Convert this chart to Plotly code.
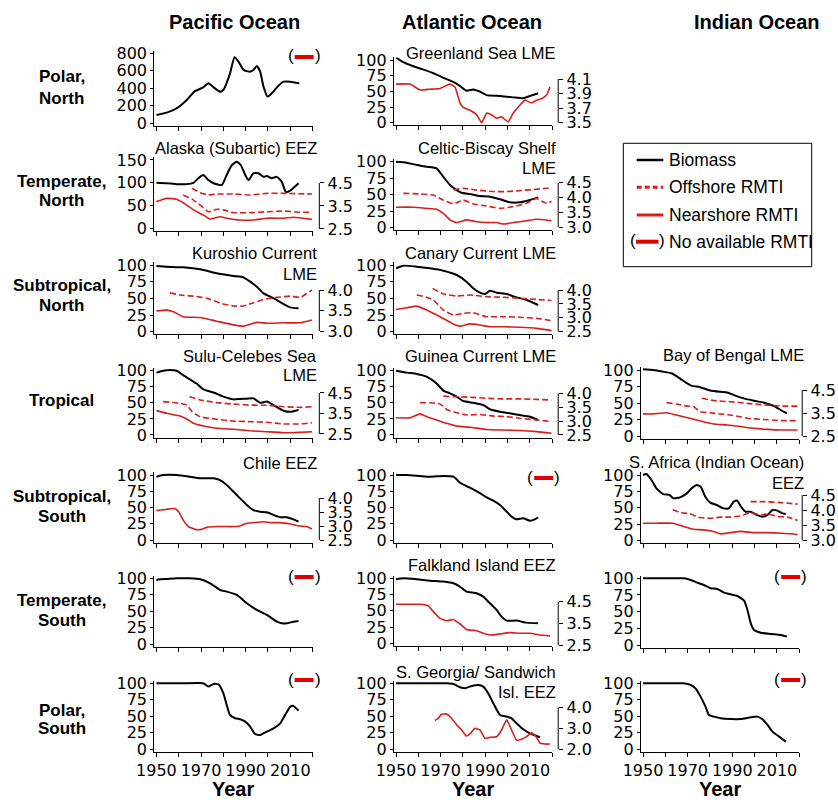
import plotly.graph_objects as go

W, H = 838, 802
FONT = "Liberation Sans, Arial, Helvetica, sans-serif"
TICKFONT = "DejaVu Sans, Liberation Sans, Arial, sans-serif"
RED = "#d81f1f"

# ---------------- data ----------------
columns = ["Pacific Ocean", "Atlantic Ocean", "Indian Ocean"]
row_labels = [["Polar,", "North"], ["Temperate,", "North"], ["Subtropical,", "North"],
              ["Tropical"], ["Subtropical,", "South"], ["Temperate,", "South"], ["Polar,", "South"]]
x_tick_vals = [1950, 1960, 1970, 1980, 1990, 2000, 2010, 2020]
x_tick_text = ["1950", "", "1970", "", "1990", "", "2010", ""]

# Pacific, Polar North (biomass only)
pac_pn_year = [1950, 1954.6, 1959, 1963.6, 1967, 1971, 1973.3, 1975.6, 1978.5, 1980, 1983, 1985, 1986.8,
               1989, 1992, 1993.5, 1995, 1996.5, 1998, 1999.8, 2001.7, 2004, 2007, 2010, 2014]
pac_pn_bio = [95, 122, 171, 267, 362, 411, 457, 411, 362, 381, 571, 754, 705, 610, 590, 610, 655, 590,
              419, 305, 343, 411, 476, 476, 457]

# Pacific, Alaska (Subartic) EEZ
ala_year = [1950, 1954.6, 1959, 1963.6, 1966.6, 1968.8, 1971, 1973.3, 1975.6, 1979.3, 1981.5, 1983.8, 1986,
            1987.8, 1989.8, 1991.3, 1993.5, 1995.7, 1998, 1999.5, 2001.7, 2004, 2006.2, 2008, 2010, 2013.7]
ala_bio = [100, 99, 97, 97, 100, 110, 117, 106, 99, 95, 117, 139, 146, 139, 117, 106, 121, 121, 113, 115,
           110, 113, 102, 80, 83, 99]
ala_off1_year = [1966, 1969.6, 1973.3, 1977, 1984.5, 1992, 1999.5, 2007, 2019.7]
ala_off1 = [4.27, 4.08, 3.98, 4.02, 4.02, 3.98, 4.05, 4.05, 4.02]
ala_off2_year = [1962, 1966, 1969.6, 1973.3, 1977, 1980, 1984.5, 1992, 1999.5, 2007, 2014.4, 2019.7]
ala_off2 = [3.98, 3.80, 3.54, 3.25, 3.36, 3.33, 3.21, 3.21, 3.25, 3.28, 3.23, 3.23]
ala_near_year = [1950, 1954.6, 1959, 1963.6, 1966.6, 1971, 1974, 1978.5, 1981.5, 1987.5, 1993.5, 1999.5,
                 2007, 2011.5, 2019.7]
ala_near = [3.69, 3.83, 3.79, 3.54, 3.33, 3.11, 2.93, 3.03, 2.97, 2.89, 2.89, 2.97, 2.97, 3.01, 2.92]

# Pacific, Kuroshio Current LME
kur_year = [1950, 1954.6, 1962, 1969.6, 1977, 1984.5, 1989, 1992, 1995, 1998, 2001, 2004, 2007, 2010, 2013.7]
kur_bio = [98.5, 97.5, 96.5, 93.5, 87.5, 83.5, 81.5, 75, 67.5, 57.5, 52.5, 47.5, 41.5, 36.5, 35]
kur_off_year = [1956, 1960.6, 1966.6, 1972.6, 1978.5, 1984.5, 1989, 1993.5, 1998, 2004, 2010, 2014.4, 2019.7]
kur_off = [3.93, 3.88, 3.85, 3.80, 3.68, 3.61, 3.61, 3.69, 3.77, 3.82, 3.85, 3.82, 4.0]
kur_near_year = [1950, 1954.6, 1957.6, 1962, 1969.6, 1977, 1984.5, 1989, 1995, 1999.5, 2007, 2014.4, 2019.7]
kur_near = [3.49, 3.51, 3.47, 3.35, 3.33, 3.24, 3.15, 3.12, 3.21, 3.19, 3.20, 3.20, 3.27]

# Pacific, Sulu-Celebes Sea LME
sulu_year = [1950, 1953, 1956, 1959, 1962, 1965, 1968, 1971, 1975.6, 1980, 1984.5, 1987.5, 1990.5, 1993.5,
             1996.5, 1999.5, 2002.5, 2007, 2010, 2013.7]
sulu_bio = [97, 100, 101, 100, 93, 86.5, 80, 71, 66, 59.6, 55.4, 56, 56.5, 57, 50, 52, 46.6, 37.8, 36, 38.9]
sulu_off1_year = [1964.8, 1969.6, 1977, 1984.5, 1992, 1999.5, 2007, 2014.4, 2019.7]
sulu_off1 = [4.32, 4.16, 4.03, 3.96, 3.91, 3.90, 3.83, 3.80, 3.83]
sulu_off2_year = [1953, 1960.6, 1963.6, 1966, 1969.6, 1977, 1984.5, 1992, 1999.5, 2007, 2014.4, 2019.7]
sulu_off2 = [4.08, 4.0, 3.91, 3.59, 3.34, 3.22, 3.13, 3.10, 3.07, 2.99, 2.99, 3.05]
sulu_near_year = [1950, 1954.6, 1960.6, 1963.6, 1966.6, 1971, 1977, 1984.5, 1992, 1999.5, 2007, 2014.4, 2019.7]
sulu_near = [3.64, 3.51, 3.38, 3.23, 3.02, 2.89, 2.78, 2.73, 2.66, 2.61, 2.56, 2.58, 2.61]

# Pacific, Chile EEZ
chi_year = [1950, 1953, 1959, 1965, 1969.6, 1975.6, 1978.5, 1981.5, 1984.5, 1987.5, 1990.5, 1993.5, 1996.5,
            1999.5, 2002.5, 2005.5, 2008.5, 2011.4, 2013.7]
chi_bio = [97.4, 100, 100, 97.4, 95, 95, 92, 84.6, 74.4, 64, 54, 46, 43.6, 42.6, 38.5, 35, 35, 31.8, 28.2]
chi_near_year = [1950, 1954.6, 1958.4, 1960, 1962, 1964.3, 1967.3, 1970.3, 1972.6, 1977, 1984.5, 1987.5,
                 1990.5, 1993.5, 1998, 2001, 2005.5, 2010, 2014.4, 2017.4, 2019.7]
chi_near = [3.55, 3.60, 3.62, 3.51, 3.21, 2.98, 2.88, 2.88, 2.95, 2.98, 2.98, 3.0, 3.10, 3.12, 3.15, 3.12,
            3.12, 3.07, 3.0, 2.98, 2.89]

# Pacific, Temperate South / Polar South (biomass only)
pac_ts_year = [1950, 1951.6, 1954.6, 1959, 1965, 1969.6, 1974.1, 1978.6, 1981.5, 1986, 1990.5, 1995, 1999.5,
               2004, 2006.2, 2008.4, 2011.4, 2013.7]
pac_ts_bio = [97.5, 98.5, 99, 100, 100, 98.5, 92.4, 82.2, 79.7, 74.6, 62, 51.8, 44.2, 34, 31.5, 31.5, 34, 35]
pac_ps_year = [1950, 1962, 1971, 1973.3, 1975.6, 1977.8, 1980, 1981.5, 1983, 1985.3, 1987.5, 1989.8, 1992,
               1994.2, 1996.5, 1999.5, 2002.5, 2005.5, 2007.7, 2010, 2011.4, 2013.7]
pac_ps_bio = [100, 100, 100, 95, 99, 98.5, 85, 67, 52, 47, 45.5, 42, 34.3, 23.2, 21.7, 26.8, 31.8, 39.4, 52,
              64.6, 65.7, 58.6]

# Atlantic, Greenland Sea LME
grl_year = [1950, 1953, 1957.8, 1962, 1966.7, 1971, 1975.7, 1978.7, 1981.6, 1984.6, 1987.6, 1990.6, 1996.6,
            2002.5, 2007, 2010, 2013.7]
grl_bio = [104, 97, 90, 85, 79, 72, 65, 58.5, 51, 53, 49.5, 44, 42.5, 40.4, 39, 42.5, 47]
grl_near_year = [1950, 1956.3, 1960.7, 1965.2, 1969.7, 1974.2, 1976.4, 1978.7, 1980.1, 1983.1, 1986.1, 1988.4,
                 1990.6, 1992.8, 1995.1, 1997.3, 2000.3, 2002.5, 2005.5, 2007.8, 2010.7, 2013, 2015.2,
                 2017.5, 2019]
grl_near = [4.03, 4.03, 3.95, 3.96, 3.97, 4.03, 3.99, 3.77, 3.71, 3.67, 3.61, 3.50, 3.63, 3.61, 3.56, 3.58,
            3.51, 3.63, 3.74, 3.81, 3.77, 3.81, 3.83, 3.88, 3.99]

# Atlantic, Celtic-Biscay Shelf LME
cel_year = [1950, 1954.8, 1959.3, 1963.7, 1968.2, 1971.2, 1974.2, 1977.2, 1979.4, 1983.1, 1987.6, 1992.1,
            1996.6, 2001, 2005.5, 2010, 2013.7]
cel_bio = [100, 98.5, 95, 92.4, 90, 77, 64.6, 57, 53, 51, 48, 47, 43, 38.4, 38.4, 42, 46]
cel_off1_year = [1975.7, 1980.1, 1986.1, 1993.6, 1999.6, 2005.5, 2011.5, 2017.5, 2020]
cel_off1 = [4.25, 4.31, 4.25, 4.20, 4.20, 4.23, 4.27, 4.31, 4.31]
cel_off2_year = [1953.3, 1960.7, 1966.7, 1971.2, 1975.7, 1980.1, 1984.6, 1990.6, 1996.6, 2002.5, 2008.5,
                 2013, 2016.7, 2019.7]
cel_off2 = [4.14, 4.12, 4.08, 3.91, 3.78, 3.91, 3.78, 3.71, 3.63, 3.69, 3.80, 3.97, 3.82, 3.86]
cel_near_year = [1950, 1957.8, 1963.7, 1968.2, 1971.2, 1974.2, 1977.2, 1981.6, 1986.1, 1990.6, 1995.1,
                 1998.1, 2002.5, 2008.5, 2013, 2019.7]
cel_near = [3.67, 3.67, 3.63, 3.60, 3.46, 3.24, 3.15, 3.24, 3.18, 3.15, 3.15, 3.10, 3.15, 3.21, 3.26, 3.21]

# Atlantic, Canary Current LME
can_year = [1950, 1953.3, 1959.3, 1965.2, 1971.2, 1977.2, 1981.6, 1984.6, 1987.6, 1989.9, 1992.1, 1995.1,
            1999.6, 2004, 2008.5, 2013.7]
can_bio = [95, 99, 97.5, 95, 91.5, 85, 75, 65, 58.5, 56.5, 61.5, 58.5, 56.5, 51.5, 47.5, 40]
can_off1_year = [1966.4, 1971.2, 1977.2, 1983.1, 1990.6, 1998.1, 2005.5, 2013, 2019.7]
can_off1 = [4.06, 3.86, 3.78, 3.82, 3.76, 3.74, 3.70, 3.66, 3.62]
can_off2_year = [1959.3, 1963.7, 1966.7, 1971.2, 1975.7, 1980.1, 1984.6, 1990.6, 1998.1, 2005.5, 2013, 2019.7]
can_off2 = [3.82, 3.74, 3.64, 3.28, 3.10, 3.16, 3.18, 3.04, 3.04, 3.02, 2.98, 2.90]
can_near_year = [1950, 1954.8, 1959.3, 1963.7, 1969.7, 1975.7, 1978.7, 1983.1, 1987.6, 1992.1, 1998.1,
                 2005.5, 2013, 2019.7]
can_near = [3.30, 3.36, 3.42, 3.28, 3.04, 2.78, 2.70, 2.78, 2.74, 2.68, 2.68, 2.66, 2.62, 2.54]

# Atlantic, Guinea Current LME
gui_year = [1950, 1954.8, 1959.3, 1963.7, 1968.2, 1971.2, 1974.2, 1977.2, 1980.1, 1984.6, 1989.1, 1992.1,
            1996.6, 2001, 2005.5, 2010, 2013.7]
gui_bio = [100, 97, 95, 90.7, 80, 69, 64.8, 59.6, 52.8, 50, 46.6, 40, 36.3, 33.7, 31, 28.5, 23.3]
gui_off1_year = [1971.2, 1975.7, 1983.1, 1990.6, 1998.1, 2005.5, 2013, 2019.7]
gui_off1 = [3.90, 3.88, 3.86, 3.82, 3.80, 3.80, 3.78, 3.76]
gui_off2_year = [1960.7, 1965.2, 1969.7, 1972.7, 1977.2, 1981.6, 1987.6, 1993.6, 1999.6, 2005.5, 2013, 2019.7]
gui_off2 = [3.66, 3.66, 3.62, 3.42, 3.30, 3.22, 3.24, 3.18, 3.16, 3.10, 3.04, 2.98]
gui_near_year = [1950, 1956.3, 1960.7, 1963.7, 1968.2, 1972.7, 1977.2, 1983.1, 1990.6, 1998.1, 2005.5,
                 2013, 2019.7]
gui_near = [3.12, 3.12, 3.26, 3.16, 3.04, 2.92, 2.82, 2.78, 2.70, 2.68, 2.66, 2.62, 2.56]

# Atlantic, Subtropical South (biomass only)
atl_ss_year = [1950, 1954.8, 1960.7, 1965.2, 1971.2, 1975.7, 1978.7, 1981.6, 1984.6, 1987.6, 1990.6, 1993.6,
               1996.6, 1999.6, 2001.8, 2004, 2007, 2010, 2012.2, 2013.7]
atl_ss_bio = [100, 100, 98.5, 97.4, 98.5, 97.4, 88, 83, 78, 72, 65.6, 60.5, 53.8, 43.6, 36, 31.8, 33.3,
              29.7, 31.8, 35]

# Atlantic, Falkland Island EEZ
fal_year = [1950, 1953.3, 1959.3, 1965.2, 1971.2, 1975.7, 1978.7, 1981.6, 1986.1, 1989.1, 1992.1, 1995.1,
            1997.3, 1999.6, 2004, 2008.5, 2013.7]
fal_bio = [98.5, 100, 98.5, 96.4, 94.9, 92.3, 87, 79.5, 77, 71.8, 61.5, 51.3, 41, 34.9, 34.9, 31.8, 30.8]
fal_near_year = [1950, 1960.7, 1964.5, 1966.7, 1969.7, 1972.7, 1975.7, 1978.7, 1981.6, 1986.1, 1989.1,
                 1992.1, 1996.6, 2001, 2005.5, 2010, 2014.5, 2019]
fal_near = [4.38, 4.38, 4.30, 4.04, 3.73, 3.62, 3.68, 3.47, 3.22, 3.16, 3.04, 2.96, 3.01, 3.07, 3.04, 3.04,
            2.96, 2.92]

# Atlantic, S. Georgia/ Sandwich Isl. EEZ
sge_year = [1950, 1960.7, 1972.7, 1975.7, 1978.7, 1980.9, 1983.9, 1986.9, 1989.1, 1991.3, 1993.6, 1996.6,
            1999.6, 2001.8, 2004, 2007, 2010, 2013, 2014.5]
sge_bio = [100, 100, 100, 99, 94, 92.4, 96, 97.5, 95, 85, 69.7, 52, 49.5, 47, 39.4, 30.3, 24.2, 20.2, 18.2]
sge_near_year = [1967.5, 1969, 1970.4, 1972.7, 1974.9, 1977.2, 1979.4, 1981.6, 1983.1, 1985.4, 1987.6,
                 1989.9, 1992.1, 1995.1, 1997.3, 1999.6, 2001.8, 2004, 2006.3, 2008.5, 2010.7, 2013,
                 2014.5, 2016.7, 2019]
sge_near = [3.37, 3.48, 3.67, 3.68, 3.48, 3.16, 2.92, 2.63, 2.73, 3.0, 2.92, 2.52, 2.57, 2.60, 2.92, 3.40,
            2.92, 2.44, 2.48, 2.60, 2.79, 2.57, 2.29, 2.25, 2.25]

# Indian, Bay of Bengal LME
bob_year = [1950, 1954.5, 1959, 1962.8, 1966.6, 1969.6, 1971.8, 1975.6, 1980.1, 1984.6, 1987.7, 1990.7,
            1995.2, 1999.7, 2004.2, 2008.7, 2011.7, 2014.5]
bob_bio = [101, 100, 97.5, 95, 87, 80, 76, 74, 69, 67, 66, 62, 57, 53.5, 50.5, 45.5, 39.4, 34.3]
bob_off1_year = [1976.4, 1981.6, 1989.2, 1996.7, 2004.2, 2011.7, 2019.3]
bob_off1 = [4.14, 4.04, 3.99, 3.92, 3.85, 3.80, 3.80]
bob_off2_year = [1960.5, 1965, 1969.6, 1972.6, 1975.6, 1980.1, 1984.6, 1989.2, 1993.7, 1996.7, 2004.2,
                 2011.7, 2019.3]
bob_off2 = [3.95, 3.89, 3.80, 3.78, 3.56, 3.51, 3.46, 3.41, 3.34, 3.27, 3.22, 3.17, 3.17]
bob_near_year = [1950, 1954.5, 1960.5, 1965, 1971, 1977.1, 1981.6, 1987.7, 1993.7, 1999.7, 2005.7, 2011.7,
                 2019.3]
bob_near = [3.46, 3.46, 3.51, 3.41, 3.27, 3.12, 3.02, 2.98, 2.91, 2.83, 2.79, 2.76, 2.76]

# Indian, S. Africa (Indian Ocean) EEZ
saf_year = [1950, 1951.5, 1953.8, 1956, 1959, 1962, 1963.6, 1966.6, 1969.6, 1971.8, 1974.1, 1975.9, 1977.9,
            1980.1, 1983.1, 1986.1, 1988.4, 1990.7, 1992.2, 1993.7, 1995.9, 1998.2, 2001.2, 2003.5, 2005.7,
            2008, 2010.2, 2012.5, 2014]
saf_bio = [100, 101.5, 92.4, 79.7, 71, 69.5, 64.5, 66, 72, 79.7, 84.8, 82.2, 67, 57.9, 54.3, 49.2, 49.2,
           59.4, 61, 52.8, 44.2, 44.2, 39, 36.5, 39, 46.7, 45.7, 41.6, 40.6]
saf_off1_year = [1998.2, 2004.2, 2011.7, 2019.3]
saf_off1 = [4.28, 4.28, 4.25, 4.20]
saf_off2_year = [1963.3, 1966.6, 1971.1, 1974.8, 1980.1, 1984.6, 1989.2, 1993.7, 1998.2, 2002.7, 2005.7,
                 2010.2, 2014.8, 2019.3]
saf_off2 = [4.01, 3.92, 3.88, 3.77, 3.73, 3.77, 3.77, 3.81, 3.92, 3.84, 3.88, 3.79, 3.77, 3.66]
saf_near_year = [1950, 1956, 1963.6, 1968.1, 1972.6, 1977.1, 1981.6, 1984.6, 1989.2, 1993.7, 1999.7,
                 2005.7, 2011.7, 2016.3, 2019.3]
saf_near = [3.57, 3.57, 3.57, 3.46, 3.37, 3.35, 3.30, 3.22, 3.26, 3.30, 3.26, 3.26, 3.24, 3.22, 3.19]

# Indian, Temperate South / Polar South (biomass only)
ind_ts_year = [1950, 1959.3, 1968.3, 1971.3, 1974.3, 1977.3, 1980.3, 1983.3, 1986.3, 1989.3, 1992.3, 1995.3,
               1996.8, 1998.3, 1999.8, 2002.8, 2007.3, 2011.8, 2014.5]
ind_ts_bio = [100, 100, 100, 97.5, 93.5, 90, 85, 84, 78.5, 76, 73.5, 66.5, 52.5, 32.5, 22.5, 18.5, 16.5,
              15, 12.5]
ind_ps_year = [1950, 1959.3, 1968.3, 1971.3, 1973.5, 1975.8, 1978, 1979.5, 1981.8, 1984.8, 1989.3, 1993.8,
               1998.3, 2001.3, 2003.5, 2005.8, 2008, 2011, 2014]
ind_ps_bio = [100, 100, 100, 97.5, 92.4, 79.8, 64.6, 52, 49.5, 47, 45.9, 45.9, 48.5, 49.5, 45.5, 36.9,
              26.8, 19.2, 11.6]

# ---------------- layout helpers ----------------
COL_X = [(154.2, 312.6), (393.8, 552.2), (640.8, 799.2)]
RIGHT_OFF = [6.7, 6.0, 3.0]
TITLE_RIGHT = [318.5, 558.0, 806.0]
XR = [1949, 2020]
Y100 = [0, 25, 50, 75, 100]


def off(x, y):
    return (x, y, True)


def near(x, y):
    return (x, y, False)


panels = [
    dict(col=0, row=0, p0=123.3, pt=53.3, vtop=800, yt=[0, 200, 400, 600, 800], bio=(pac_pn_year, pac_pn_bio),
         red=[], right=None, title=[], nr=57),
    dict(col=1, row=0, p0=122.7, pt=60, vtop=100, yt=Y100, bio=(grl_year, grl_bio),
         red=[near(grl_near_year, grl_near)],
         right=dict(t=[3.5, 3.7, 3.9, 4.1], lo=(3.5, 122.7), hi=(4.1, 79)),
         title=[("Greenland Sea LME", 53)], nr=None),
    dict(col=0, row=1, p0=228.3, pt=160, vtop=150, yt=[0, 50, 100, 150], bio=(ala_year, ala_bio),
         red=[off(ala_off1_year, ala_off1), off(ala_off2_year, ala_off2), near(ala_near_year, ala_near)],
         right=dict(t=[2.5, 3.5, 4.5], lo=(2.5, 229), hi=(4.5, 183)),
         title=[("Alaska (Subartic) EEZ", 148)], nr=None),
    dict(col=1, row=1, p0=227.7, pt=161.7, vtop=100, yt=Y100, bio=(cel_year, cel_bio),
         red=[off(cel_off1_year, cel_off1), off(cel_off2_year, cel_off2), near(cel_near_year, cel_near)],
         right=dict(t=[3.0, 3.5, 4.0, 4.5], lo=(3.0, 227), hi=(4.5, 182.7)),
         title=[("Celtic-Biscay Shelf", 147.7), ("LME", 168.3)], nr=None),
    dict(col=0, row=2, p0=331.7, pt=265, vtop=100, yt=Y100, bio=(kur_year, kur_bio),
         red=[off(kur_off_year, kur_off), near(kur_near_year, kur_near)],
         right=dict(t=[3.0, 3.5, 4.0], lo=(3.0, 331), hi=(4.0, 290)),
         title=[("Kuroshio Current", 253), ("LME", 274)], nr=None),
    dict(col=1, row=2, p0=331.7, pt=265, vtop=100, yt=Y100, bio=(can_year, can_bio),
         red=[off(can_off1_year, can_off1), off(can_off2_year, can_off2), near(can_near_year, can_near)],
         right=dict(t=[2.5, 3.0, 3.5, 4.0], lo=(2.5, 331.7), hi=(4.0, 290)),
         title=[("Canary Current LME", 253.3)], nr=None),
    dict(col=0, row=3, p0=435, pt=370.7, vtop=100, yt=Y100, bio=(sulu_year, sulu_bio),
         red=[off(sulu_off1_year, sulu_off1), off(sulu_off2_year, sulu_off2), near(sulu_near_year, sulu_near)],
         right=dict(t=[2.5, 3.5, 4.5], lo=(2.5, 434), hi=(4.5, 393)),
         title=[("Sulu-Celebes Sea", 356), ("LME", 375)], nr=None),
    dict(col=1, row=3, p0=435, pt=370.7, vtop=100, yt=Y100, bio=(gui_year, gui_bio),
         red=[off(gui_off1_year, gui_off1), off(gui_off2_year, gui_off2), near(gui_near_year, gui_near)],
         right=dict(t=[2.5, 3.0, 3.5, 4.0], lo=(2.5, 435), hi=(4.0, 393.3)),
         title=[("Guinea Current LME", 356)], nr=None),
    dict(col=2, row=3, p0=436, pt=370, vtop=100, yt=Y100, bio=(bob_year, bob_bio),
         red=[off(bob_off1_year, bob_off1), off(bob_off2_year, bob_off2), near(bob_near_year, bob_near)],
         right=dict(t=[2.5, 3.5, 4.5], lo=(2.5, 436), hi=(4.5, 390)),
         title=[("Bay of Bengal LME", 355)], nr=None),
    dict(col=0, row=4, p0=540, pt=475, vtop=100, yt=Y100, bio=(chi_year, chi_bio),
         red=[near(chi_near_year, chi_near)],
         right=dict(t=[2.5, 3.0, 3.5, 4.0], lo=(2.5, 540), hi=(4.0, 498)),
         title=[("Chile EEZ", 463)], nr=None),
    dict(col=1, row=4, p0=540, pt=475, vtop=100, yt=Y100, bio=(atl_ss_year, atl_ss_bio),
         red=[], right=None, title=[], nr=478),
    dict(col=2, row=4, p0=540.7, pt=475, vtop=100, yt=Y100, bio=(saf_year, saf_bio),
         red=[off(saf_off1_year, saf_off1), off(saf_off2_year, saf_off2), near(saf_near_year, saf_near)],
         right=dict(t=[3.0, 3.5, 4.0, 4.5], lo=(3.0, 540.5), hi=(4.5, 495)),
         title=[("S. Africa (Indian Ocean)", 461.7), ("EEZ", 483.3)], nr=None),
    dict(col=0, row=5, p0=644, pt=578.3, vtop=100, yt=Y100, bio=(pac_ts_year, pac_ts_bio),
         red=[], right=None, title=[], nr=577),
    dict(col=1, row=5, p0=643.3, pt=578.3, vtop=100, yt=Y100, bio=(fal_year, fal_bio),
         red=[near(fal_near_year, fal_near)],
         right=dict(t=[2.5, 3.5, 4.5], lo=(2.5, 645), hi=(4.5, 601.7)),
         title=[("Falkland Island EEZ", 565)], nr=None),
    dict(col=2, row=5, p0=645, pt=578.3, vtop=100, yt=Y100, bio=(ind_ts_year, ind_ts_bio),
         red=[], right=None, title=[], nr=577),
    dict(col=0, row=6, p0=749.3, pt=683.3, vtop=100, yt=Y100, bio=(pac_ps_year, pac_ps_bio),
         red=[], right=None, title=[], nr=680),
    dict(col=1, row=6, p0=749.3, pt=683.3, vtop=100, yt=Y100, bio=(sge_year, sge_bio),
         red=[near(sge_near_year, sge_near)],
         right=dict(t=[2.0, 3.0, 4.0], lo=(2.0, 749.3), hi=(4.0, 707.3)),
         title=[("S. Georgia/ Sandwich", 671.7), ("Isl. EEZ", 691.7)], nr=None),
    dict(col=2, row=6, p0=749.3, pt=683.3, vtop=100, yt=Y100, bio=(ind_ps_year, ind_ps_bio),
         red=[], right=None, title=[], nr=680),
]

fig = go.Figure()
layout = {}
shapes = []
ann = []
tickfont = dict(family=TICKFONT, size=16, color="black")


def px_x(v):
    return v / W


def px_y(v):
    return 1 - v / H


def text(t, x, y, size=17, bold=False, xanchor="center", color="black"):
    ann.append(dict(text=("<b>%s</b>" % t) if bold else t, x=px_x(x), y=px_y(y), xref="paper", yref="paper",
                    showarrow=False, xanchor=xanchor, yanchor="middle",
                    font=dict(family=FONT, size=size, color=color)))


extra = len(panels)
for i, p in enumerate(panels):
    n = i + 1
    s = "" if n == 1 else str(n)
    x0, x1 = COL_X[p["col"]]
    vtop, p0, pt = p["vtop"], p["p0"], p["pt"]
    ppu = (p0 - pt) / vtop
    r0, r1 = -0.04 * vtop, 1.04 * vtop
    bot = p0 - r0 * ppu
    top = p0 - r1 * ppu
    bottom_row = p["row"] == 6
    layout["xaxis" + s] = dict(domain=[px_x(x0), px_x(x1)], range=XR, anchor="y" + s, showgrid=False,
                               zeroline=False, showline=True, linecolor="black", linewidth=1, ticks="outside",
                               ticklen=4, tickcolor="black", tickvals=x_tick_vals, automargin=False,
                               ticktext=x_tick_text, showticklabels=bottom_row, tickfont=tickfont)
    layout["yaxis" + s] = dict(domain=[px_y(bot), px_y(top)], range=[r0, r1], anchor="x" + s,
                               showgrid=False, zeroline=False, showline=True, linecolor="black", linewidth=1,
                               ticks="outside", ticklen=3, tickcolor="black", tickvals=p["yt"],
                               tickfont=tickfont, automargin=False)
    bx, by = p["bio"]
    fig.add_trace(go.Scatter(x=bx, y=by, xaxis="x" + s, yaxis="y" + s, mode="lines",
                             line=dict(color="black", width=2, shape="spline", smoothing=0.5),
                             showlegend=False, hoverinfo="skip"))
    if p["right"] is not None:
        extra += 1
        ry = "y%d" % extra
        rt = p["right"]
        (tl, pl), (th, ph) = rt["lo"], rt["hi"]
        sl = (th - tl) / (pl - ph)
        rr = [tl + (pl - bot) * sl, tl + (pl - top) * sl]
        xpos = px_x(x1 + RIGHT_OFF[p["col"]])
        layout["yaxis%d" % extra] = dict(overlaying="y" + s, anchor="free", position=xpos, side="right",
                                         range=rr, showgrid=False, zeroline=False, showline=False,
                                         ticks="outside", ticklen=4, tickcolor="black", tickvals=rt["t"],
                                         tickformat=".1f", tickfont=tickfont, automargin=False)
        shapes.append(dict(type="line", xref="paper", yref=ry, x0=xpos, x1=xpos, y0=tl, y1=th,
                           line=dict(color="black", width=1)))
        for (rx, rv, dashed) in p["red"]:
            fig.add_trace(go.Scatter(x=rx, y=rv, xaxis="x" + s, yaxis=ry, mode="lines",
                                     line=dict(color=RED, width=1.6, dash="6px,3px" if dashed else "solid",
                                               shape="spline", smoothing=0.4),
                                     showlegend=False, hoverinfo="skip"))
    for (t, yc) in p["title"]:
        text(t, TITLE_RIGHT[p["col"]], yc, size=16.5, xanchor="right")
    if p["nr"] is not None:
        yc = p["nr"]
        shapes.append(dict(type="line", xref="paper", yref="paper", x0=px_x(x1 - 18), x1=px_x(x1 + 1),
                           y0=px_y(yc), y1=px_y(yc), line=dict(color="#e00000", width=4)))
        text("(", x1 - 22, yc - 1)
        text(")", x1 + 5, yc - 1)
    if bottom_row:
        text("Year", (x0 + x1) / 2, 789, size=20, bold=True)

# column headers
for c, name in enumerate(columns):
    cx = [234, 472, 757][c]
    text(name, cx, 22, size=20, bold=True)

# row labels
row_centers = [[76.7, 98.3], [181.7, 200], [285, 305], [400], [496.7, 516.7], [600, 620], [710, 728]]
for lines, ys in zip(row_labels, row_centers):
    for t, yy in zip(lines, ys):
        text(t, 62, yy, size=17, bold=True)

# legend box
shapes.append(dict(type="rect", xref="paper", yref="paper", x0=px_x(623.3), x1=px_x(811.7),
                   y0=px_y(266.7), y1=px_y(143.3), line=dict(color="black", width=1)))
leg = [("Biomass", 160, "black", "solid", 2.5), ("Offshore RMTI", 187.3, RED, "5px,3px", 3),
       ("Nearshore RMTI", 215, RED, "solid", 3)]
for t, yy, col, dash, wd in leg:
    shapes.append(dict(type="line", xref="paper", yref="paper", x0=px_x(636.7), x1=px_x(663.3),
                       y0=px_y(yy), y1=px_y(yy), line=dict(color=col, width=wd, dash=dash)))
    text(t, 667, yy, size=17.5, xanchor="left")
shapes.append(dict(type="line", xref="paper", yref="paper", x0=px_x(636), x1=px_x(658.5),
                   y0=px_y(241.7), y1=px_y(241.7), line=dict(color="#e00000", width=4)))
text("(", 632.5, 240.7)
text(")", 662, 240.7)
text("No available RMTI", 667, 241.7, size=17.5, xanchor="left")

fig.update_layout(**layout)
fig.update_layout(width=W, height=H, margin=dict(l=0, r=0, t=0, b=0, autoexpand=False),
                  paper_bgcolor="white", plot_bgcolor="white", showlegend=False, shapes=shapes,
                  annotations=ann, font=dict(family=FONT, size=17, color="black"))
fig.write_html("out.html")
